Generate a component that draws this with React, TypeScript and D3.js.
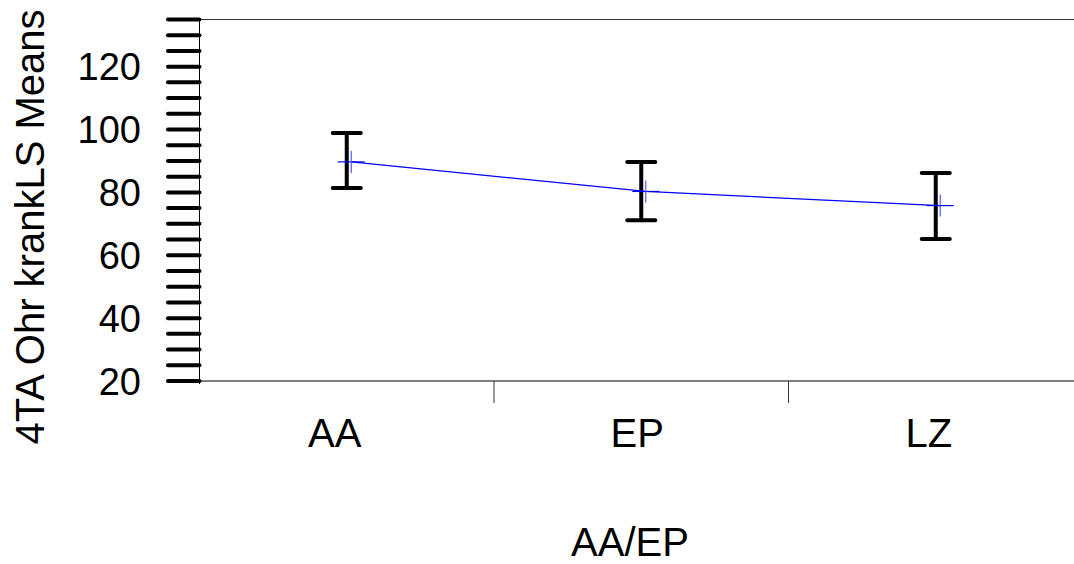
import React from "react";
import * as d3 from "d3";

const categories = ["AA", "EP", "LZ"];
const means = [89.7, 80.3, 75.8];
const upper = [98.9, 89.7, 86.2];
const lower = [81.4, 71.1, 65.2];
const yTickLabels = [20, 40, 60, 80, 100, 120];
const yMinorTicks = d3.range(20, 136, 5);
const yTitle = "4TA Ohr krankLS Means";
const xTitle = "AA/EP";

const W = 1074;
const H = 564;
const left = 199.5;
const top = 19.5;
const bottom = 381;
const right = 1083;

export default function App() {
  const x = d3.scaleBand<string>().domain(categories).range([left, right]).padding(0);
  const y = d3.scaleLinear().domain([20, 135]).range([bottom, top]);
  const cx = (c: string) => (x(c) as number) + x.bandwidth() / 2;
  const meanOffset = 4.5;
  const line = d3
    .line<number>()
    .x((_, i) => cx(categories[i]) + meanOffset)
    .y((d) => y(d));
  const font = "Arial, 'Liberation Sans', Helvetica, sans-serif";
  const boundaries = categories.slice(1).map((c) => x(c) as number);
  const labelShift = [-12, -4, -7];

  return (
    <svg
      width={W}
      height={H}
      style={{ position: "absolute", left: 0, top: 0, background: "#fff" }}
      fontFamily={font}
    >
      {/* frame */}
      <line x1={left} x2={W} y1={top} y2={top} stroke="#333" strokeWidth={1} />
      <line x1={left} x2={W} y1={bottom} y2={bottom} stroke="#000" strokeWidth={1} />
      {boundaries.map((b, i) => (
        <line key={i} x1={b} x2={b} y1={bottom} y2={bottom + 22} stroke="#333" strokeWidth={1} />
      ))}
      {/* y ticks */}
      {yMinorTicks.map((t) => (
        <line
          key={t}
          x1={168}
          x2={left}
          y1={y(t)}
          y2={y(t)}
          stroke="#000"
          strokeWidth={4}
          strokeLinecap="round"
        />
      ))}
      <line x1={left} x2={left} y1={top} y2={bottom + 3} stroke="#000" strokeWidth={1} />
      {yTickLabels.map((t) => (
        <text key={t} x={141} y={y(t)} dy="0.36em" textAnchor="end" fontSize={38} fill="#000">
          {t}
        </text>
      ))}
      {/* x labels */}
      {categories.map((c, i) => (
        <text key={c} x={cx(c) + labelShift[i]} y={447} textAnchor="middle" fontSize={40} fill="#000">
          {c}
        </text>
      ))}
      <text x={630} y={556} textAnchor="middle" fontSize={40} fill="#000">
        {xTitle}
      </text>
      <text
        transform={`translate(44,227) rotate(-90)`}
        textAnchor="middle"
        fontSize={40}
        fill="#000"
      >
        {yTitle}
      </text>
      {/* error bars */}
      {categories.map((c, i) => {
        const xc = cx(c);
        return (
          <g key={c} stroke="#000" strokeWidth={4} strokeLinecap="round">
            <line x1={xc} x2={xc} y1={y(upper[i])} y2={y(lower[i])} />
            <line x1={xc - 14} x2={xc + 14} y1={y(upper[i])} y2={y(upper[i])} />
            <line x1={xc - 14} x2={xc + 14} y1={y(lower[i])} y2={y(lower[i])} />
          </g>
        );
      })}
      {/* means line */}
      <path d={line(means) as string} fill="none" stroke="#0000ff" strokeWidth={1.2} />
      {categories.map((c, i) => {
        const xm = cx(c) + meanOffset;
        const ym = y(means[i]);
        return (
          <g key={c}>
            <line x1={xm - 13.5} x2={xm + 13.5} y1={ym} y2={ym} stroke="#0000ff" strokeWidth={1.2} />
            <line x1={xm} x2={xm} y1={ym - 11} y2={ym + 11} stroke="#5555ff" strokeWidth={1.2} />
          </g>
        );
      })}
    </svg>
  );
}
